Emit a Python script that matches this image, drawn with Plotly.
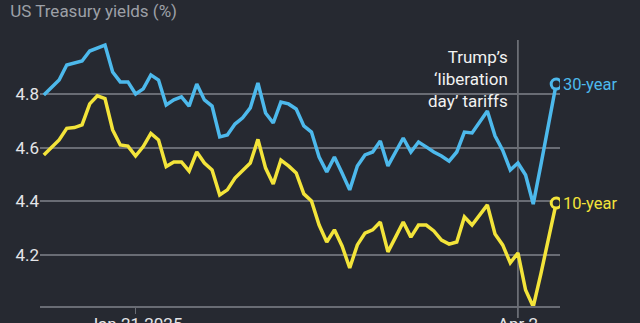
import pandas as pd
import plotly.graph_objects as go

# Trading days, 31 Dec 2024 to 9 Apr 2025 (US bond market closures removed)
holidays = ["2025-01-01", "2025-01-09", "2025-01-20", "2025-02-17"]
dates = [d.strftime("%Y-%m-%d") for d in
         pd.bdate_range("2024-12-31", "2025-04-09", freq="C", holidays=holidays)]

yield_30y = [
    4.796, 4.822, 4.852, 4.908, 4.915, 4.923, 4.960, 4.971, 4.982, 4.882,
    4.845, 4.845, 4.800, 4.819, 4.871, 4.852, 4.759, 4.778, 4.789, 4.755,
    4.837, 4.778, 4.755, 4.640, 4.647, 4.688, 4.711, 4.748, 4.841, 4.729,
    4.692, 4.770, 4.763, 4.744, 4.681, 4.658, 4.565, 4.510, 4.565, 4.506,
    4.443, 4.532, 4.573, 4.584, 4.625, 4.532, 4.584, 4.636, 4.584, 4.621,
    4.603, 4.584, 4.569, 4.550, 4.584, 4.658, 4.655, 4.696, 4.737, 4.644,
    4.591, 4.517, 4.543, 4.498, 4.390, 4.536, 4.681, 4.837,
]

yield_10y = [
    4.573, 4.603, 4.629, 4.672, 4.675, 4.685, 4.763, 4.793, 4.783, 4.666,
    4.610, 4.606, 4.569, 4.604, 4.653, 4.629, 4.530, 4.547, 4.547, 4.513,
    4.584, 4.543, 4.517, 4.424, 4.443, 4.487, 4.513, 4.543, 4.631, 4.524,
    4.465, 4.554, 4.532, 4.506, 4.428, 4.402, 4.312, 4.249, 4.294, 4.234,
    4.152, 4.238, 4.282, 4.294, 4.323, 4.212, 4.267, 4.323, 4.267, 4.312,
    4.312, 4.290, 4.256, 4.241, 4.249, 4.342, 4.312, 4.349, 4.387, 4.279,
    4.238, 4.171, 4.208, 4.070, 4.008, 4.130, 4.264, 4.394,
]

y_ticks = [4.2, 4.4, 4.6, 4.8]
x_tick_dates = ["2025-01-21", "2025-04-02"]
x_tick_text = ["Jan 21 2025", "Apr 2"]
event_date = "2025-04-02"

BG = "#262931"
BLUE = "#4db9ec"
YELLOW = "#f3e43a"
GRID = "#696c74"
FONT = "Roboto"

fig = go.Figure()

for values, color, name in [(yield_30y, BLUE, "30-year"), (yield_10y, YELLOW, "10-year")]:
    fig.add_trace(go.Scatter(
        x=dates, y=values, mode="lines", name=name,
        line=dict(color=color, width=3.5), showlegend=False, hoverinfo="skip",
    ))
    # open circle on the latest reading
    fig.add_trace(go.Scatter(
        x=[dates[-1]], y=[values[-1]], mode="markers", showlegend=False,
        marker=dict(size=10, color=BG, line=dict(color=color, width=3)),
        hoverinfo="skip",
    ))
    fig.add_annotation(
        x=dates[-1], y=values[-1], text=name, showarrow=False,
        xanchor="left", yanchor="middle", xshift=5,
        font=dict(family=FONT, size=16.5, color=color),
    )

# event marker line
fig.add_shape(
    type="line", xref="x", yref="paper",
    x0=event_date, x1=event_date, y0=-0.045, y1=1.0,
    line=dict(color="#a3a5ab", width=1), layer="below",
)
fig.add_annotation(
    x=event_date, y=1.0, xref="x", yref="paper",
    text="Trump\u2019s<br>\u2018liberation<br>day\u2019 tariffs",
    showarrow=False, xanchor="right", yanchor="top", xshift=-8, yshift=-5,
    align="right", font=dict(family=FONT, size=17, color="#f2f2f2"),
)

fig.update_layout(
    width=640, height=323,
    margin=dict(l=40, r=80, t=40, b=17, autoexpand=False),
    paper_bgcolor=BG, plot_bgcolor=BG,
    font=dict(family=FONT, color="#e4e5e8", size=15),
    title=dict(
        text="US Treasury yields (%)", x=0.016, xanchor="left",
        y=0.985, yanchor="top",
        font=dict(family=FONT, size=17, color="#9da0a7"),
    ),
)

fig.update_xaxes(
    type="category", range=[-0.5, len(dates) - 0.5], automargin=False,
    tickmode="array", tickvals=x_tick_dates, ticktext=x_tick_text,
    showgrid=False, zeroline=False,
    showline=True, linecolor=GRID, linewidth=1.5,
    ticks="outside", ticklen=6, tickcolor=GRID, tickwidth=1,
    ticklabelstandoff=-4,
    tickfont=dict(family=FONT, size=17, color="#e4e5e8"),
)
fig.update_yaxes(
    range=[4.0105, 5.001], automargin=False, tickmode="array", tickvals=y_ticks,
    ticktext=[f"{v:.1f}" for v in y_ticks],
    showgrid=True, gridcolor=GRID, gridwidth=1.5,
    zeroline=False, showline=False, ticks="",
    tickfont=dict(family=FONT, size=17, color="#e4e5e8"),
)

fig.write_html("out.html")
